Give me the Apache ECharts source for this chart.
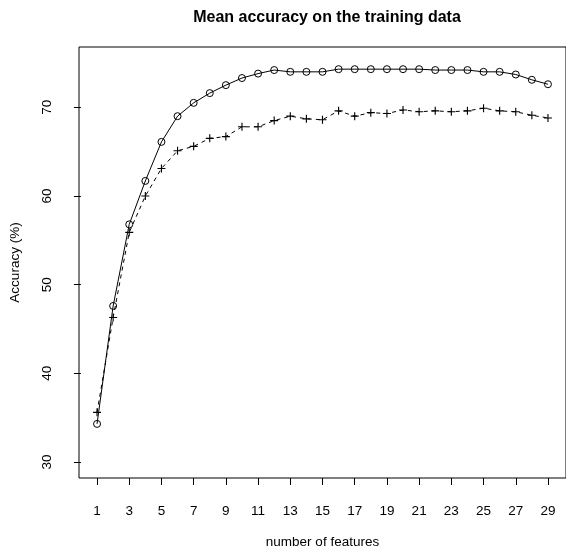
<!DOCTYPE html>
<html>
<head>
<meta charset="utf-8">
<script src="https://cdn.jsdelivr.net/npm/echarts@6/dist/echarts.min.js"></script>
<style>
  html, body { margin: 0; padding: 0; background: #fff; }
  #main { width: 566px; height: 554px; }
</style>
</head>
<body>
<div id="main"></div>
<script>
var features = [1,2,3,4,5,6,7,8,9,10,11,12,13,14,15,16,17,18,19,20,21,22,23,24,25,26,27,28,29];
var accCircle = [34.3,47.6,56.8,61.7,66.1,69.0,70.5,71.6,72.5,73.3,73.8,74.2,74.0,74.0,74.0,74.3,74.3,74.3,74.3,74.3,74.3,74.2,74.2,74.2,74.0,74.0,73.7,73.1,72.6];
var accPlus = [35.6,46.3,55.9,60.0,63.1,65.1,65.6,66.5,66.7,67.8,67.8,68.5,69.0,68.7,68.6,69.6,69.0,69.4,69.3,69.7,69.5,69.6,69.5,69.6,69.9,69.6,69.5,69.1,68.8];
var xTicks = [1,3,5,7,9,11,13,15,17,19,21,23,25,27,29];
var yTicks = [30,40,50,60,70];

var font = 'Liberation Sans, Arial, sans-serif';
var plus = 'path://M-0.14,-1H0.14V-0.14H1V0.14H0.14V1H-0.14V0.14H-1V-0.14H-0.14Z';

function pairs(ys) {
  return features.map(function (x, i) { return [x, ys[i]]; });
}

var chart = echarts.init(document.getElementById('main'), null, {renderer: 'canvas'});

var option = {
  animation: false,
  backgroundColor: '#fff',
  title: {
    text: 'Mean accuracy on the training data',
    left: 322, top: 5,
    textAlign: 'center',
    textStyle: { fontFamily: font, fontSize: 16, fontWeight: 'bold', color: '#000' }
  },
  grid: {
    left: 79, top: 47, width: 489, height: 437,
    show: true, borderColor: '#000', borderWidth: 1, backgroundColor: 'transparent'
  },
  xAxis: {
    type: 'value',
    min: -0.12, max: 30.12,
    name: 'number of features',
    nameLocation: 'middle',
    nameGap: 57,
    nameTextStyle: { fontFamily: font, fontSize: 13.5, color: '#000' },
    axisLine: { show: false },
    splitLine: { show: false },
    axisTick: { show: true, customValues: xTicks, length: 7, lineStyle: { color: '#000' } },
    axisLabel: { customValues: xTicks, margin: 26, fontFamily: font, fontSize: 13.5, color: '#000' }
  },
  yAxis: {
    type: 'value',
    min: 28.2, max: 76.8,
    name: 'Accuracy (%)',
    nameLocation: 'middle',
    nameGap: 57,
    nameRotate: 90,
    nameTextStyle: { fontFamily: font, fontSize: 13.5, color: '#000' },
    axisLine: { show: false },
    splitLine: { show: false },
    axisTick: { show: true, customValues: yTicks, length: 7, lineStyle: { color: '#000' } },
    axisLabel: { customValues: yTicks, rotate: 90, margin: 25, fontFamily: font, fontSize: 13.5, color: '#000' }
  },
  series: [
    {
      type: 'line',
      data: pairs(accCircle),
      symbol: 'circle',
      symbolSize: 7,
      lineStyle: { color: '#000', width: 1 },
      itemStyle: { color: 'transparent', borderColor: '#000', borderWidth: 1 },
      z: 3
    },
    {
      type: 'line',
      data: pairs(accPlus),
      symbol: plus,
      symbolSize: 8,
      lineStyle: { color: '#000', width: 1, type: [4, 4] },
      itemStyle: { color: '#000' },
      z: 2
    }
  ]
};

chart.setOption(option);
</script>
</body>
</html>
